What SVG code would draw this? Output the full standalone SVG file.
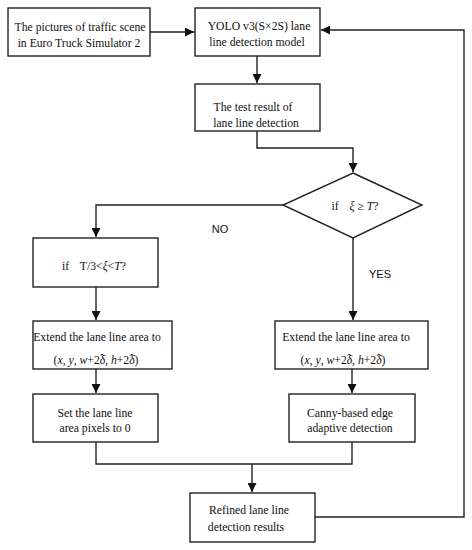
<svg xmlns="http://www.w3.org/2000/svg" width="472" height="550" viewBox="0 0 472 550">
<defs>
<style>
.box{fill:#fff;stroke:#222;stroke-width:1.4}
.t{font-family:"Liberation Serif","Times New Roman",serif;font-size:11.7px;fill:#111;text-anchor:middle}
.s{font-family:"Liberation Sans",Arial,sans-serif;font-size:11px;fill:#111;text-anchor:middle}
.ln{fill:none;stroke:#222;stroke-width:1.4}
.i{font-style:italic}
</style>
<marker id="ah" viewBox="0 0 10 10" refX="10" refY="5" markerWidth="9" markerHeight="9" markerUnits="userSpaceOnUse" orient="auto">
<path d="M0,0 L10,5 L0,10 z" fill="#111"/>
</marker>
</defs>
<rect width="472" height="550" fill="#fff"/>
<g id="connectors">
<path class="ln" d="M150,32 H194" marker-end="url(#ah)"/>
<path class="ln" d="M257,56 V83" marker-end="url(#ah)"/>
<path class="ln" d="M257,131 V148 H353 V172" marker-end="url(#ah)"/>
<path class="ln" d="M283,205 H96 V237" marker-end="url(#ah)"/>
<path class="ln" d="M353,238 V320" marker-end="url(#ah)"/>
<path class="ln" d="M96,287 V320" marker-end="url(#ah)"/>
<path class="ln" d="M96,369 V393" marker-end="url(#ah)"/>
<path class="ln" d="M352,369 V393" marker-end="url(#ah)"/>
<path class="ln" d="M96,442 V464 H352 V442"/>
<path class="ln" d="M252,464 V492" marker-end="url(#ah)"/>
<path class="ln" d="M315,517 H464 V30 H321" marker-end="url(#ah)"/>
<text class="s" x="220" y="233">NO</text>
<text class="s" x="380" y="278">YES</text>
</g>
<g id="n1">
<rect class="box" x="8" y="8" width="142" height="48"/>
<text class="t" x="80" y="31">The pictures of traffic scene</text>
<text class="t" x="79" y="47">in Euro Truck Simulator 2</text>
</g>
<g id="n2">
<rect class="box" x="195" y="8" width="125" height="48"/>
<text class="t" x="259" y="30">YOLO v3(S×2S) lane</text>
<text class="t" x="257" y="46">line detection model</text>
</g>
<g id="n3">
<rect class="box" x="195" y="84" width="125" height="47"/>
<text class="t" x="253" y="111">The test result of</text>
<text class="t" x="256" y="127">lane line detection</text>
</g>
<g id="n4">
<polygon class="box" points="353,173 422,205 353,238 283,205"/>
<text class="t" x="355" y="210">if <tspan dx="8" class="i">ξ</tspan> ≥ <tspan class="i">T</tspan>?</text>
</g>
<g id="n5">
<rect class="box" x="33" y="238" width="125" height="49"/>
<text class="t" x="94" y="270">if <tspan dx="8">T/3&lt;</tspan><tspan class="i">ξ</tspan>&lt;<tspan class="i">T</tspan>?</text>
</g>
<g id="n6">
<rect class="box" x="33" y="321" width="139" height="48"/>
<text class="t" x="97" y="341">Extend the lane line area to</text>
<text class="t" x="96" y="364">(<tspan class="i">x</tspan>, <tspan class="i">y</tspan>, <tspan class="i">w</tspan>+2<tspan class="i">δ</tspan><tspan dx="-5" dy="-1">ˆ</tspan><tspan dx="1" dy="1">, </tspan><tspan class="i">h</tspan>+2<tspan class="i">δ</tspan><tspan dx="-5" dy="-1">ˆ</tspan><tspan dx="1" dy="1">)</tspan></text>
</g>
<g id="n7">
<rect class="box" x="275" y="321" width="153" height="48"/>
<text class="t" x="346" y="341">Extend the lane line area to</text>
<text class="t" x="343" y="364">(<tspan class="i">x</tspan>, <tspan class="i">y</tspan>, <tspan class="i">w</tspan>+2<tspan class="i">δ</tspan><tspan dx="-5" dy="-1">ˆ</tspan><tspan dx="1" dy="1">, </tspan><tspan class="i">h</tspan>+2<tspan class="i">δ</tspan><tspan dx="-5" dy="-1">ˆ</tspan><tspan dx="1" dy="1">)</tspan></text>
</g>
<g id="n8">
<rect class="box" x="33" y="394" width="125" height="48"/>
<text class="t" x="95" y="417">Set the lane line</text>
<text class="t" x="95" y="432">area pixels to 0</text>
</g>
<g id="n9">
<rect class="box" x="289" y="394" width="126" height="48"/>
<text class="t" x="350" y="417">Canny-based edge</text>
<text class="t" x="350" y="432">adaptive detection</text>
</g>
<g id="n10">
<rect class="box" x="190" y="493" width="125" height="49"/>
<text class="t" x="249" y="514">Refined lane line</text>
<text class="t" x="246" y="531">detection results</text>
</g>
</svg>
